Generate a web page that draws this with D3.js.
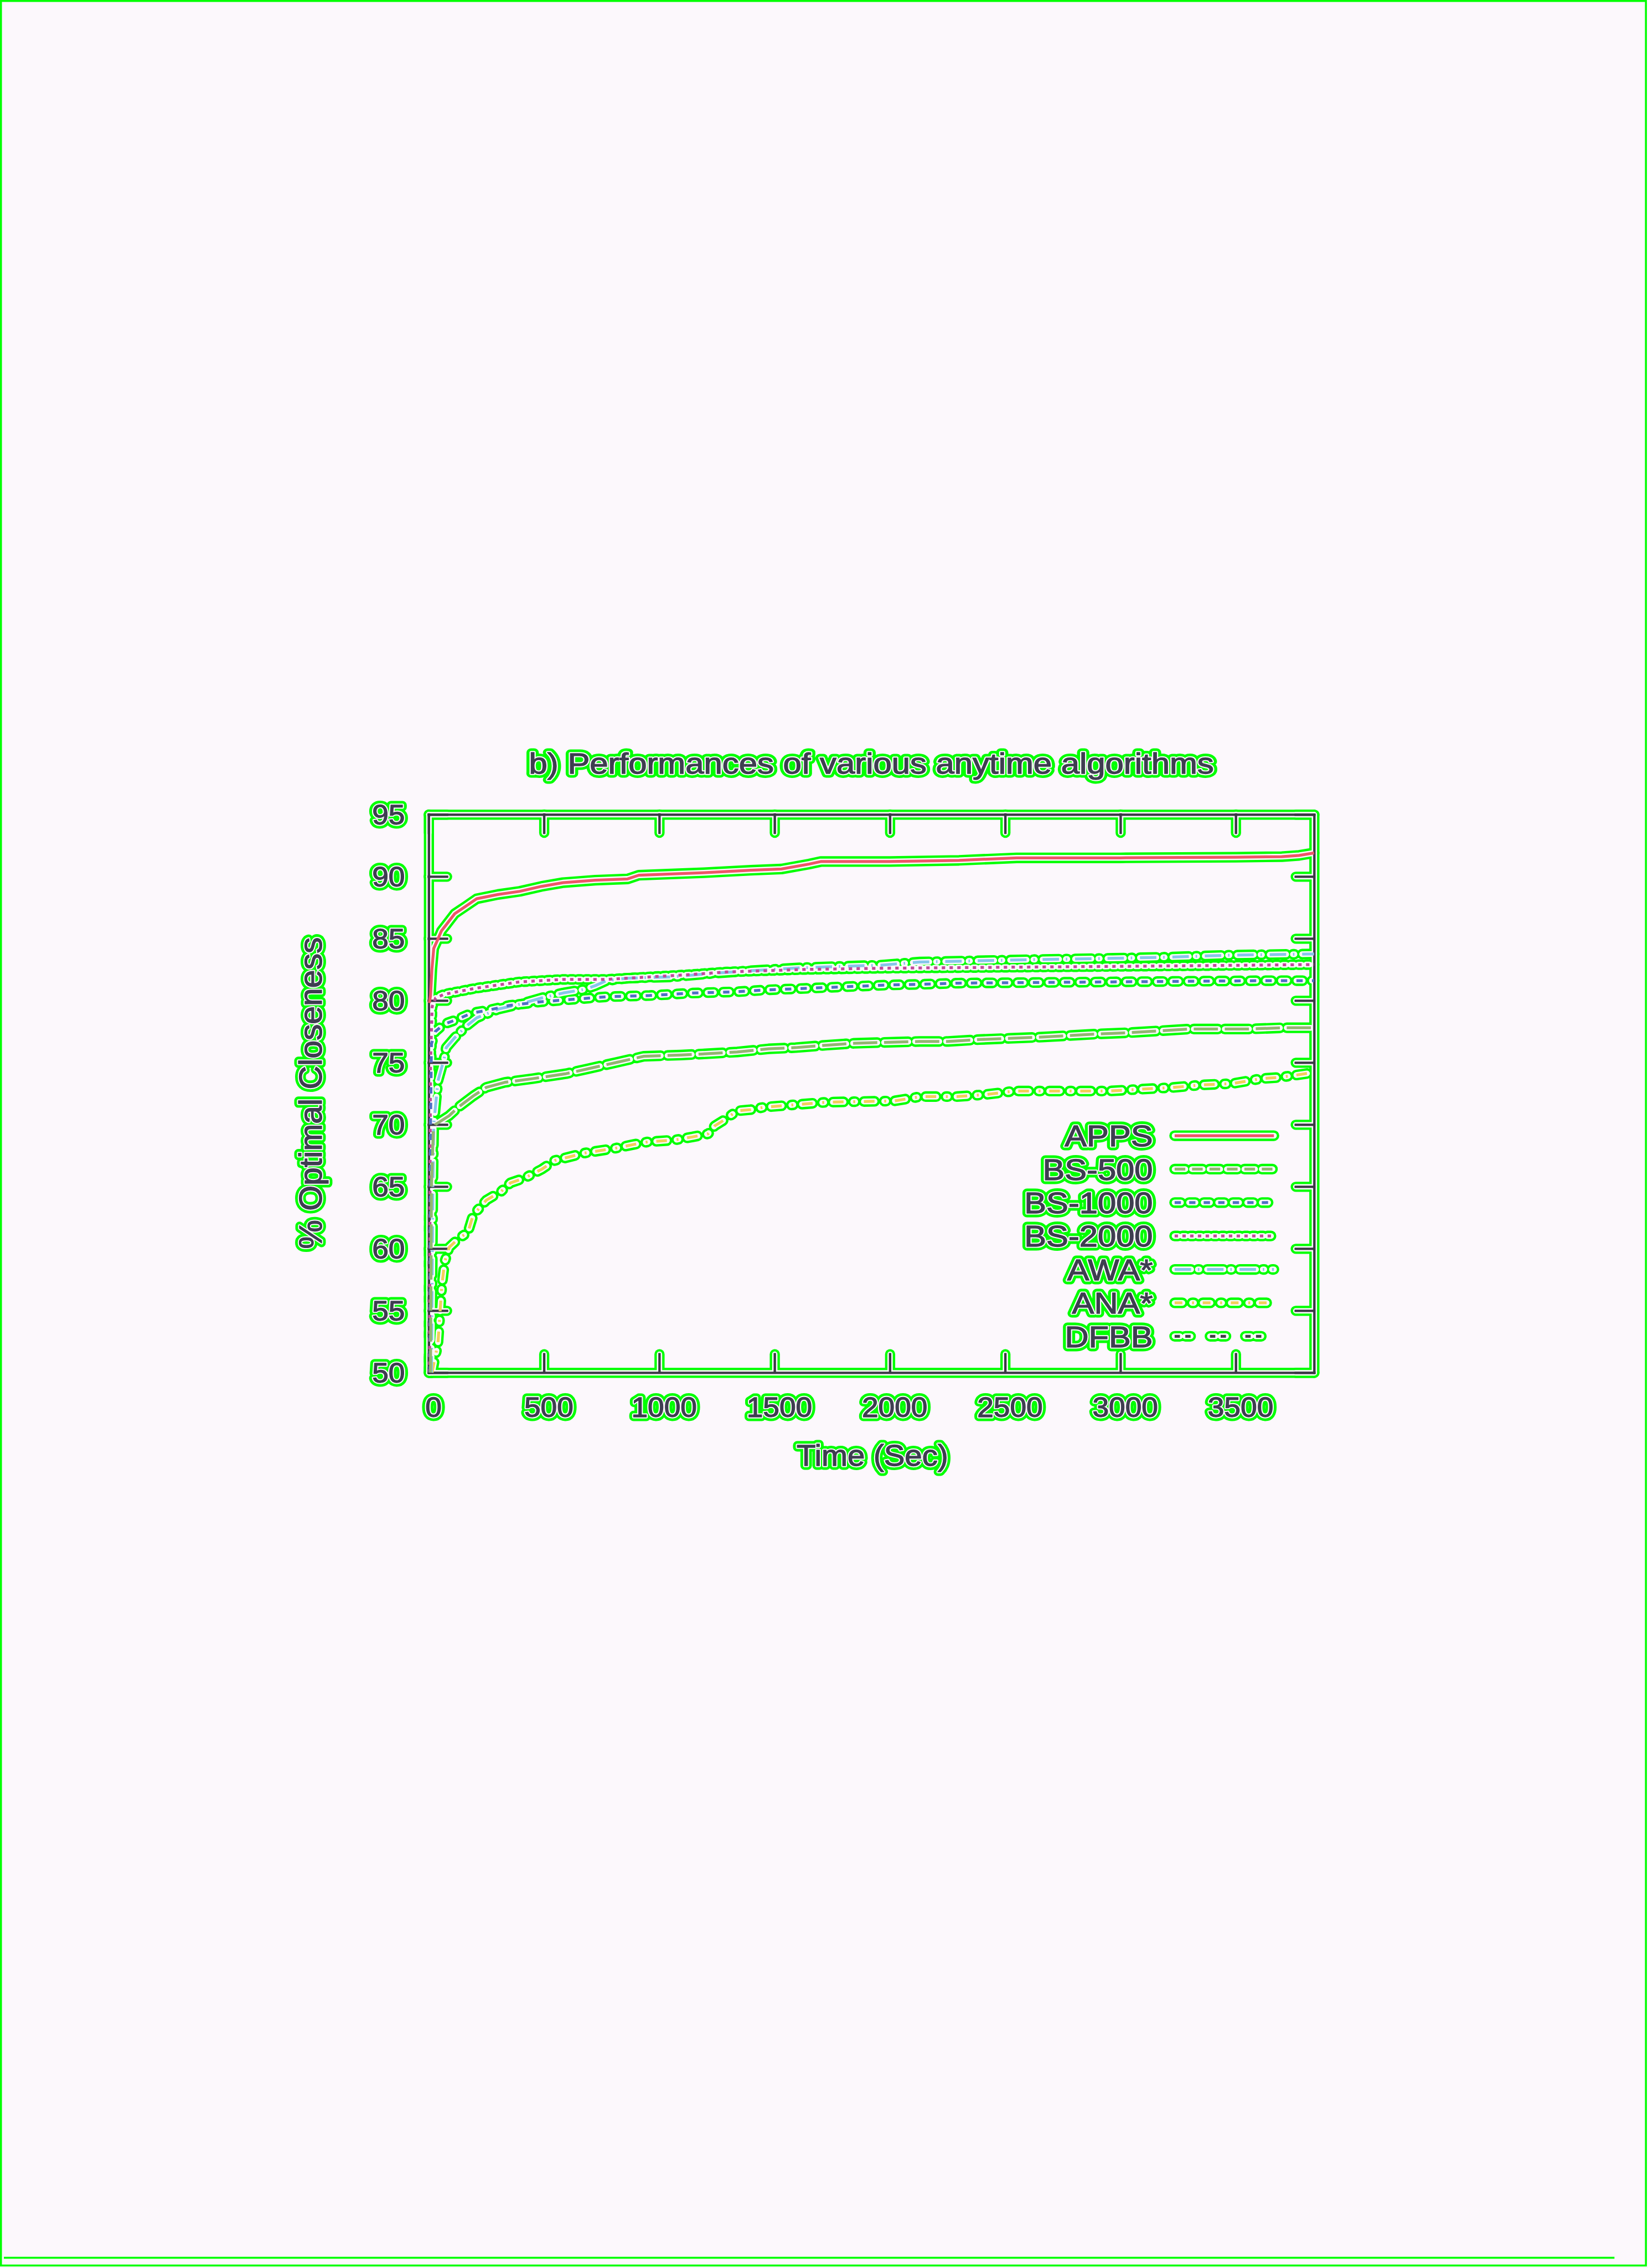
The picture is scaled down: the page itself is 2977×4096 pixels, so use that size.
<!DOCTYPE html>
<html><head><meta charset="utf-8">
<script src="https://cdn.jsdelivr.net/npm/d3@7"></script>
<style>html,body{margin:0;padding:0;background:#fcf8fc;} svg{display:block;}</style>
</head><body>
<svg id="chart" width="2977" height="4096"></svg>
<script>
// ---------- data ----------
const categories = ["APPS", "BS-500", "BS-1000", "BS-2000", "AWA*", "ANA*", "DFBB"];
const xTickValues = [0, 500, 1000, 1500, 2000, 2500, 3000, 3500];
const yTickValues = [50, 55, 60, 65, 70, 75, 80, 85, 90, 95];
const xDomain = [0, 3840];
const yDomain = [50, 95];
const titleText = "b) Performances of various anytime algorithms";
const xLabelText = "Time (Sec)";
const yLabelText = "% Optimal Closeness";

const appsValues = [[3,79.8],[8,80.4],[14,82.5],[22,84.2],[39,84.9],[55,85.6],[76,86.1],[113,87.0],[161,87.6],[208,88.2],[301,88.55],[395,88.8],[489,89.2],[582,89.5],[723,89.7],[863,89.8],[911,90.1],[1193,90.3],[1397,90.5],[1530,90.6],[1650,91.0],[1700,91.2],[2000,91.2],[2300,91.3],[2550,91.5],[3000,91.5],[3500,91.55],[3700,91.6],[3775,91.7],[3840,91.9]];
const bs500Values = [[8,50],[12,65],[20,69.5],[29,70.0],[88,70.7],[129,71.4],[193,72.3],[250,73.0],[330,73.4],[452,73.7],[596,74.1],[692,74.5],[813,75.0],[933,75.5],[1094,75.6],[1202,75.7],[1338,75.85],[1474,76.1],[1591,76.2],[1727,76.4],[1845,76.55],[2130,76.7],[2252,76.7],[2388,76.85],[2523,76.95],[2660,77.05],[2900,77.3],[3034,77.4],[3168,77.55],[3302,77.7],[3553,77.7],[3704,77.8],[3840,77.8]];
const bs1000Values = [[6,50],[8,70],[12,76.5],[29,77.5],[67,78.1],[113,78.4],[189,79.0],[254,79.2],[349,79.6],[489,79.9],[630,80.1],[771,80.3],[958,80.4],[1145,80.6],[1334,80.7],[1460,80.85],[1626,80.97],[1794,81.1],[1996,81.25],[2130,81.3],[2297,81.4],[2632,81.45],[2967,81.5],[3302,81.55],[3636,81.6],[3840,81.6]];
const bs2000Values = [[4,50],[6,65],[8,75],[15,79.5],[30,80.2],[67,80.5],[208,81.0],[395,81.5],[582,81.7],[771,81.7],[958,81.9],[1145,82.1],[1292,82.3],[1626,82.5],[1962,82.6],[2297,82.65],[2632,82.7],[2967,82.75],[3302,82.8],[3840,82.9]];
const awaValues = [[12,50],[18,65],[22,70],[40,73.5],[67,75.3],[76,76.2],[113,77.0],[161,77.9],[208,78.6],[301,79.3],[395,79.7],[489,80.2],[582,80.6],[677,80.9],[723,81.2],[771,81.6],[863,81.8],[1052,81.9],[1239,82.2],[1397,82.4],[1626,82.65],[1962,82.85],[2130,83.1],[2380,83.2],[2632,83.3],[2967,83.4],[3218,83.5],[3468,83.65],[3840,83.75]];
const anaValues = [[15,50],[25,51],[40,52.3],[57,57.0],[69,58.9],[89,60.1],[129,60.8],[170,61.3],[193,62.7],[250,63.9],[314,64.6],[355,65.3],[418,65.7],[491,66.4],[547,67.1],[612,67.4],[676,67.7],[813,68.1],[891,68.4],[950,68.6],[1066,68.75],[1144,69.0],[1212,69.25],[1241,69.9],[1280,70.35],[1338,71.1],[1397,71.2],[1455,71.4],[1591,71.6],[1727,71.8],[1872,71.85],[2019,71.9],[2134,72.25],[2290,72.25],[2407,72.4],[2543,72.7],[2718,72.7],[2952,72.7],[3088,72.85],[3223,72.98],[3359,73.2],[3485,73.3],[3611,73.7],[3689,73.8],[3748,73.95],[3840,74.2]];
const dfbbValues = [[2,50],[2,58],[3,66]];

// ---------- styles ----------
const BG = "#fcf8fc", GREEN = "#00ff00", INK = "#3e3e50", AXIS_INK = "#3a3a44";
const seriesStyle = {
  "APPS":    {color: "#ee5668", dash: null,           legendDash: null},
  "BS-500":  {color: "#93b572", dash: "50,14",        legendDash: "22,14"},
  "BS-1000": {color: "#4f6fc4", dash: "13,19",        legendDash: "13,17"},
  "BS-2000": {color: "#c04a9a", dash: "7,9",          legendDash: "7,9"},
  "AWA*":    {color: "#86c6ea", dash: "34,14,3,16",   legendDash: "34,14,3,16"},
  "ANA*":    {color: "#f2cf5a", dash: "22,20,4,18",   legendDash: "16,20,4,18"},
  "DFBB":    {color: "#404048", dash: "11,11,11,40",  legendDash: "11,11,11,40"}
};
const seriesValues = {
  "APPS": appsValues, "BS-500": bs500Values, "BS-1000": bs1000Values, "BS-2000": bs2000Values,
  "AWA*": awaValues, "ANA*": anaValues, "DFBB": dfbbValues
};

const W = 3400, H = 4678, S = 0.875;
const svg = d3.select("#chart");
const root = svg.append("g").attr("transform", `scale(${S})`);
root.append("rect").attr("width", W).attr("height", H).attr("fill", BG);

const x = d3.scaleLinear().domain(xDomain).range([885, 2713]);
const y = d3.scaleLinear().domain(yDomain).range([2833, 1681]);
const FONT = "'Liberation Sans', Arial, Helvetica, sans-serif";

function lineStyle(sel, mode, w, color, dash, inkCap) {
  if (mode === "green") sel.attr("stroke", GREEN).attr("stroke-width", w + 16).attr("stroke-linecap", "round");
  else if (mode === "bg") sel.attr("stroke", BG).attr("stroke-width", w + 6).attr("stroke-linecap", "round");
  else sel.attr("stroke", color).attr("stroke-width", w).attr("stroke-linecap", inkCap || "butt");
  sel.attr("fill", "none").attr("stroke-linejoin", "round");
  if (dash) sel.attr("stroke-dasharray", dash);
}

function addText(g, mode, str, xx, yy, opt) {
  const t = g.append("text").text(str)
    .attr("transform", `translate(${xx},${yy})${opt.rotate ? ` rotate(${opt.rotate})` : ""} scale(${opt.sx || 1},1)`)
    .attr("font-family", FONT).attr("font-size", opt.size)
    .attr("text-anchor", opt.anchor || "start");
  if (mode === "green") t.attr("fill", GREEN).attr("stroke", GREEN).attr("stroke-width", 17).attr("stroke-linejoin", "round");
  else if (mode === "bg") t.attr("fill", BG).attr("stroke", BG).attr("stroke-width", 6).attr("stroke-linejoin", "round");
  else t.attr("fill", INK).attr("stroke", INK).attr("stroke-width", 1.5);
  return t;
}

const lineGen = d3.line().x(d => x(d[0])).y(d => y(d[1]));

function drawAll(g, mode) {
  // axes frame with inward ticks
  const axes = [
    [d3.axisBottom(x).tickValues(xTickValues), `translate(0,${y(yDomain[0])})`],
    [d3.axisTop(x).tickValues(xTickValues), `translate(0,${y(yDomain[1])})`],
    [d3.axisLeft(y).tickValues(yTickValues), `translate(${x(xDomain[0])},0)`],
    [d3.axisRight(y).tickValues(yTickValues), `translate(${x(xDomain[1])},0)`]
  ];
  axes.forEach(([ax, tr]) => {
    ax.tickSizeInner(-38).tickSizeOuter(0).tickFormat(() => "");
    const a = g.append("g").attr("transform", tr).call(ax);
    a.selectAll("text").remove();
    lineStyle(a.selectAll("path,line"), mode, 5, AXIS_INK, null, "square");
  });

  // tick labels
  yTickValues.forEach(v => addText(g, mode, String(v), 836, y(v) + 21, {size: 58, anchor: "end", sx: 1.05}));
  xTickValues.forEach(v => addText(g, mode, String(v), x(v) + 10, 2925, {size: 58, anchor: "middle", sx: 1.05}));

  // titles
  addText(g, mode, titleText, 1799, 1597, {size: 60, anchor: "middle", sx: 1.14});
  addText(g, mode, xLabelText, 1801, 3025, {size: 62, anchor: "middle", sx: 1.04});
  addText(g, mode, yLabelText, 664, 2256, {size: 66, anchor: "middle", sx: 1.02, rotate: -90});

  // series lines
  categories.slice().reverse().forEach(name => {
    const st = seriesStyle[name];
    const p = g.append("path").attr("d", lineGen(seriesValues[name]));
    lineStyle(p, mode, 6, st.color, st.dash);
  });

  // legend
  categories.forEach((name, i) => {
    const st = seriesStyle[name];
    const ly = 2344 + i * 69;
    addText(g, mode, name, 2380, ly + 22, {size: 62, anchor: "end", sx: 1.1});
    const p = g.append("path").attr("d", d3.line()([[2425, ly], [2630, ly]]));
    lineStyle(p, mode, 6, st.color, st.legendDash);
  });
}

["green", "bg", "ink"].forEach(mode => drawAll(root.append("g").attr("class", "layer-" + mode), mode));

// page border contour
root.append("rect").attr("x", 2).attr("y", 2).attr("width", W - 4).attr("height", H - 4)
  .attr("fill", "none").attr("stroke", GREEN).attr("stroke-width", 4);
root.append("path").attr("d", d3.line()([[8, 4660], [3333, 4660]]))
  .attr("fill", "none").attr("stroke", GREEN).attr("stroke-width", 4);
</script>
</body></html>
